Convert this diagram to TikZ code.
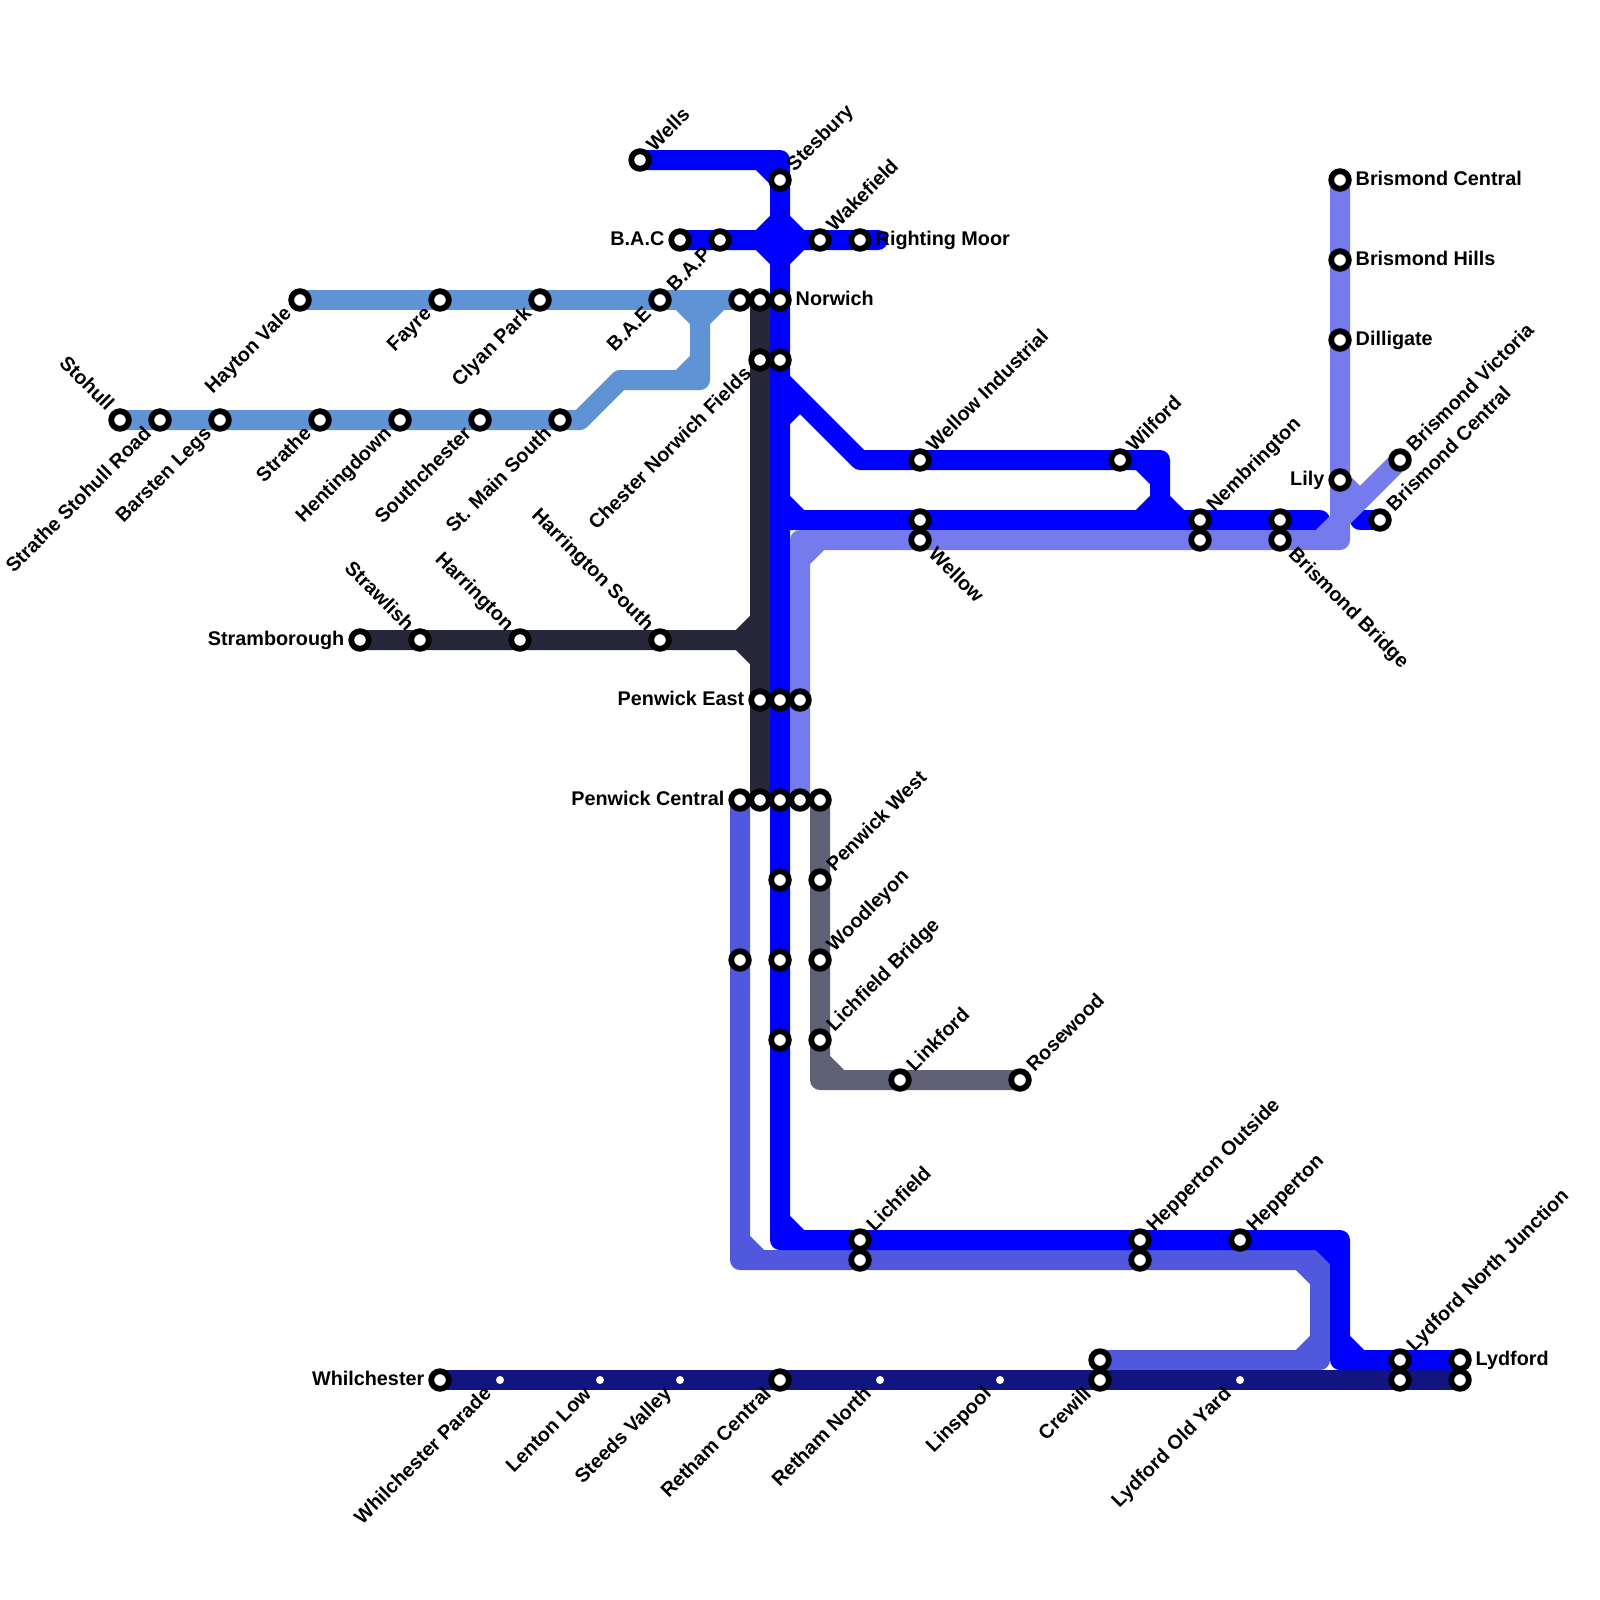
\documentclass[tikz,border=0pt]{standalone}
\usepackage{fontspec}
\setmainfont{Liberation Sans}
\usetikzlibrary{calc}
\pgfdeclarelayer{lines}
\pgfsetlayers{lines,main}
\definecolor{cblue}{HTML}{0000FF}
\definecolor{cperi}{HTML}{757AEC}
\definecolor{cindigo}{HTML}{5059DD}
\definecolor{cnavy}{HTML}{121480}
\definecolor{cdark}{HTML}{262639}
\definecolor{cgrey}{HTML}{5F6174}
\definecolor{csteel}{HTML}{5F93D5}
\tikzset{
  stn/.style={circle,draw=black,fill=white,line width=5.8pt,minimum size=17.6pt,inner sep=0pt},
  dot/.style={circle,fill=white,minimum size=8pt,inner sep=0pt},
  lbl/.style={font=\fontsize{19.8}{22}\selectfont\bfseries,inner sep=0pt,text=black,text height=14.3pt,text depth=0.3pt},
  rail/.style={line width=20pt,line join=round,line cap=round},
}
% station macros: name, x, y
\newcommand{\st}[3]{\node[stn] (#1) at (#2,#3) {};}
\newcommand{\sd}[3]{\node[dot] (#1) at (#2,#3) {};}
% labels: station name, text
\newcommand{\lne}[2]{\node[lbl,anchor=west,rotate=45] (#1-l) at ($(#1)+(9.5,-12.5)$) {#2};}
\newcommand{\lsw}[2]{\node[lbl,anchor=east,rotate=45] (#1-l) at ($(#1)+(-12.5,10)$) {#2};}
\newcommand{\lnw}[2]{\node[lbl,anchor=east,rotate=-45] (#1-l) at ($(#1)+(-9,-13.2)$) {#2};}
\newcommand{\lse}[2]{\node[lbl,anchor=west,rotate=-45] (#1-l) at ($(#1)+(12.5,10.5)$) {#2};}
\newcommand{\leas}[2]{\node[lbl,anchor=west] (#1-l) at ($(#1)+(15.5,-2)$) {#2};}
\newcommand{\lwes}[2]{\node[lbl,anchor=east] (#1-l) at ($(#1)+(-15.5,-2)$) {#2};}
\begin{document}
\begin{tikzpicture}[x=1pt,y=-1pt]
\useasboundingbox (0,0) rectangle (1600,1600);

% ---- steel line stations
\st{stohull}{120}{420}\lnw{stohull}{Stohull}
\st{ssr}{160}{420}\lsw{ssr}{Strathe Stohull Road}
\st{barsten}{220}{420}\lsw{barsten}{Barsten Legs}
\st{strathe}{320}{420}\lsw{strathe}{Strathe}
\st{hent}{400}{420}\lsw{hent}{Hentingdown}
\st{south}{480}{420}\lsw{south}{Southchester}
\st{stmain}{560}{420}\lsw{stmain}{St. Main South}
\st{hayton}{300}{300}\lsw{hayton}{Hayton Vale}
\st{fayre}{440}{300}\lsw{fayre}{Fayre}
\st{clyan}{540}{300}\lsw{clyan}{Clyan Park}
\st{bae}{660}{300}\lsw{bae}{B.A.E}
\st{nors}{740}{300}
\st{nord}{760}{300}
\st{norwich}{780}{300}\leas{norwich}{Norwich}
% ---- top blue
\st{wells}{640}{160}\lne{wells}{Wells}
\st{stesbury}{780}{180}\lne{stesbury}{Stesbury}
\st{bac}{680}{240}\lwes{bac}{B.A.C}
\st{bap}{720}{240}\lsw{bap}{B.A.P}
\st{wake}{820}{240}\lne{wake}{Wakefield}
\st{right}{860}{240}\leas{right}{Righting Moor}
\st{chnd}{760}{360}
\st{chester}{780}{360}
\lsw{chnd}{Chester Norwich Fields}
\st{wi}{920}{460}\lne{wi}{Wellow Industrial}
\st{wilford}{1120}{460}\lne{wilford}{Wilford}
\st{wellb}{920}{520}
\st{wellow}{920}{540}\lse{wellow}{Wellow}
\st{nembb}{1200}{520}\lne{nembb}{Nembrington}
\st{nembp}{1200}{540}
\st{brbb}{1280}{520}
\st{brbridge}{1280}{540}\lse{brbridge}{Brismond Bridge}
\st{brcen2}{1380}{520}\lne{brcen2}{Brismond Central}
\st{brvic}{1400}{460}\lne{brvic}{Brismond Victoria}
\st{brcen}{1340}{180}\leas{brcen}{Brismond Central}
\st{brhills}{1340}{260}\leas{brhills}{Brismond Hills}
\st{dilli}{1340}{340}\leas{dilli}{Dilligate}
\st{lily}{1340}{480}\lwes{lily}{Lily}
% ---- dark
\st{stram}{360}{640}\lwes{stram}{Stramborough}
\st{strawl}{420}{640}\lnw{strawl}{Strawlish}
\st{harr}{520}{640}\lnw{harr}{Harrington}
\st{harrs}{660}{640}\lnw{harrs}{Harrington South}
% ---- penwick
\st{pe}{760}{700}\lwes{pe}{Penwick East}
\st{peb}{780}{700}
\st{pep}{800}{700}
\st{pc}{740}{800}\lwes{pc}{Penwick Central}
\st{pcd}{760}{800}
\st{pcb}{780}{800}
\st{pcp}{800}{800}
\st{pcg}{820}{800}
\st{b880}{780}{880}
\st{b960}{780}{960}
\st{b1040}{780}{1040}
\st{i960}{740}{960}
\st{pw}{820}{880}\lne{pw}{Penwick West}
\st{wood}{820}{960}\lne{wood}{Woodleyon}
\st{lb}{820}{1040}\lne{lb}{Lichfield Bridge}
\st{link}{900}{1080}\lne{link}{Linkford}
\st{rose}{1020}{1080}\lne{rose}{Rosewood}
% ---- bottom
\st{lichb}{860}{1240}\lne{lichb}{Lichfield}
\st{lichi}{860}{1260}
\st{hob}{1140}{1240}\lne{hob}{Hepperton Outside}
\st{hoi}{1140}{1260}
\st{hep}{1240}{1240}\lne{hep}{Hepperton}
\st{lnjb}{1400}{1360}\lne{lnjb}{Lydford North Junction}
\st{lnjn}{1400}{1380}
\st{lydb}{1460}{1360}\leas{lydb}{Lydford}
\st{lydn}{1460}{1380}
\st{whil}{440}{1380}\lwes{whil}{Whilchester}
\sd{wp}{500}{1380}\lsw{wp}{Whilchester Parade}
\sd{ll}{600}{1380}\lsw{ll}{Lenton Low}
\sd{sv}{680}{1380}\lsw{sv}{Steeds Valley}
\st{rc}{780}{1380}\lsw{rc}{Retham Central}
\sd{rn}{880}{1380}\lsw{rn}{Retham North}
\sd{lin}{1000}{1380}\lsw{lin}{Linspool}
\st{crewi}{1100}{1360}
\st{crewn}{1100}{1380}\lsw{crewn}{Crewill}
\sd{loy}{1240}{1380}\lsw{loy}{Lydford Old Yard}

% ---- corners and free ends
\coordinate (s1) at (580,420);
\coordinate (s2) at (620,380);
\coordinate (s3) at (700,380);
\coordinate (s4) at (700,320);
\coordinate (s5) at (700,300);
\coordinate (dj) at (760,640);
\coordinate (g1) at (820,1080);
\coordinate (i1) at (740,1260);
\coordinate (i2) at (1320,1260);
\coordinate (i3) at (1320,1360);
\coordinate (b1) at (780,160);
\coordinate (b2) at (780,240);
\coordinate (bend) at (878,240);
\coordinate (b3) at (780,380);
\coordinate (b4) at (860,460);
\coordinate (b5) at (1160,460);
\coordinate (b6) at (1160,520);
\coordinate (b7) at (780,520);
\coordinate (b8) at (1320,520);
\coordinate (b9) at (1360,520);
\coordinate (b10) at (780,1240);
\coordinate (b11) at (1340,1240);
\coordinate (b12) at (1340,1360);
\coordinate (p1) at (800,540);
\coordinate (p2) at (1340,540);
\coordinate (p3) at (1340,480);

\begin{pgfonlayer}{lines}
\fill[white] (0,0) rectangle (1600,1600);
% steel
\draw[rail,csteel] (hayton.center) -- (nors.center);
\draw[rail,csteel] (stohull.center) -- (s1) -- (s2) -- (s3) -- (s4) -- (s5)
  (s3) ++(-20,0) -- ++(20,-20)
  (s5) ++(-20,0) -- ++(20,20) -- ++(20,-20);
% dark
\draw[rail,cdark] (stram.center) -- (dj)
  (nord.center) -- (pcd.center)
  (dj) ++(-20,0) -- ++(20,-20)
  (dj) ++(-20,0) -- ++(20,20);
% grey
\draw[rail,cgrey] (pcg.center) -- (g1) -- (rose.center)
  (g1) ++(0,-20) -- ++(20,20);
% indigo
\draw[rail,cindigo] (pc.center) -- (i1) -- (i2) -- (i3) -- (crewi.center)
  (i1) ++(0,-20) -- ++(20,20)
  (i2) ++(-20,0) -- ++(20,20)
  (i3) ++(-20,0) -- ++(20,-20);
% navy
\draw[rail,cnavy] (whil.center) -- (lydn.center);
% blue
\draw[rail,cblue] (wells.center) -- (b1) -- (b10) -- (b11) -- (b12) -- (lydb.center)
  (b1) ++(-20,0) -- ++(20,20)
  (b10) ++(0,-20) -- ++(20,20)
  (b11) ++(-20,0) -- ++(20,20)
  (b12) ++(0,-20) -- ++(20,20);
\draw[rail,cblue] (bac.center) -- (bend)
  (b2) ++(-20,0) -- ++(20,-20) -- ++(20,20) -- ++(-20,20) -- ++(-20,-20);
\draw[rail,cblue] (b3) -- (b4) -- (b5) -- (b6)
  (b3) ++(0,40) -- ++(20,-20)
  (b5) ++(-20,0) -- ++(20,20);
\draw[rail,cblue] (b7) -- (b8)
  (b7) ++(0,-20) -- ++(20,20)
  (b6) ++(-20,0) -- ++(20,-20) -- ++(20,20);
\draw[rail,cblue] (b9) -- (brcen2.center);
% periwinkle
\draw[rail,cperi] (pcp.center) -- (p1) -- (p2) -- (brcen.center)
  (p1) ++(0,20) -- ++(20,-20)
  (p2) ++(-20,0) -- ++(20,-20) -- (brvic.center)
  (p3) -- ++(20,20);
\end{pgfonlayer}
\end{tikzpicture}
\end{document}
